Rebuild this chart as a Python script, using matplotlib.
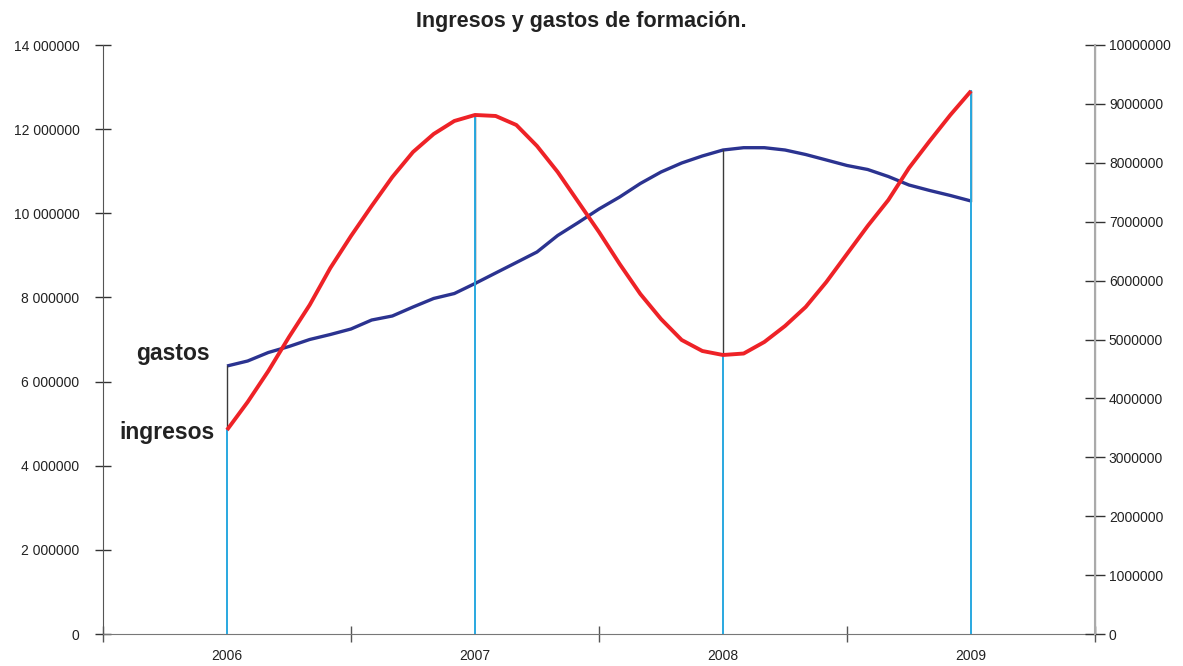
import numpy as np
import matplotlib
matplotlib.use("Agg")
import matplotlib.pyplot as plt

plt.rcParams['font.family'] = ['Liberation Sans', 'DejaVu Sans']

years = ['2006', '2007', '2008', '2009']

# monthly values, Jan 2006 .. Jan 2009
gastos = [6.370, 6.489, 6.691, 6.834, 7.000, 7.119, 7.250, 7.463, 7.559, 7.772,
          7.975, 8.093, 8.331, 8.581, 8.830, 9.080, 9.472, 9.781, 10.102, 10.387,
          10.708, 10.981, 11.195, 11.362, 11.504, 11.559, 11.559, 11.504, 11.397,
          11.267, 11.136, 11.041, 10.874, 10.672, 10.542, 10.423, 10.292]
ingresos = [3.464, 3.939, 4.465, 5.042, 5.586, 6.214, 6.757, 7.267, 7.759, 8.183,
            8.489, 8.710, 8.812, 8.795, 8.642, 8.285, 7.844, 7.334, 6.825, 6.282,
            5.773, 5.348, 4.992, 4.805, 4.737, 4.762, 4.958, 5.229, 5.552, 5.976,
            6.452, 6.927, 7.368, 7.912, 8.370, 8.812, 9.219]

gastos = np.array(gastos) * 1e6      # left axis
ingresos = np.array(ingresos) * 1e6  # right axis
months = np.arange(len(gastos)) / 12.0

left_max = 14e6
right_max = 10e6

fig = plt.figure(figsize=(11.83, 6.66), dpi=100)
ax = fig.add_axes([103/1183, 1-634/666, (1095-103)/1183, (634-45)/666])
ax2 = ax.twinx()

ax.set_xlim(-0.5, 3.5)
ax.set_ylim(0, left_max)
ax2.set_ylim(0, right_max)

ax.plot(months, gastos, color='#2b3390', lw=2.4, solid_capstyle='butt', zorder=3)

# lines at each year: dark line between the two series, cyan drop line to ingresos
ratio = right_max / left_max
for i in range(len(years)):
    k = i * 12
    g = gastos[k] * ratio
    r = ingresos[k]
    ax2.plot([i, i], [min(g, r), max(g, r)], color='#3a3a3a', lw=1, zorder=1)
    ax2.plot([i, i], [0, r], color='#29a8e0', lw=1.4, zorder=2)

ax2.plot(months, ingresos, color='#ee2227', lw=2.8, solid_capstyle='butt', zorder=4)

# x axis: ticks at boundaries, labels at centers
ax.set_xticks(np.arange(-0.5, 4.0, 1.0))
ax.set_xticklabels([])
ax.set_xticks(range(len(years)), minor=True)
ax.set_xticklabels(years, minor=True)
ax.tick_params(axis='x', which='major', direction='inout', length=12, width=1, color='#555555')
ax.tick_params(axis='x', which='minor', length=0, pad=11, labelsize=10, labelcolor='#222222')

yt = np.arange(0, 14.1e6, 2e6)
ax.set_yticks(yt)
ax.set_yticklabels(['0'] + ['%d 000000' % (v / 1e6) for v in yt[1:]])
ax.tick_params(axis='y', direction='inout', length=12, width=1, color='#333333',
               pad=11, labelsize=10, labelcolor='#222222')

yt2 = np.arange(0, 10.1e6, 1e6)
ax2.set_yticks(yt2)
ax2.set_yticklabels(['%d' % v for v in yt2])
ax2.tick_params(axis='y', direction='inout', length=14, width=1, color='#333333',
                pad=3, labelsize=10, labelcolor='#222222')

for a in (ax, ax2):
    a.spines['top'].set_visible(False)
ax.spines['left'].set_color('#555555')
ax.spines['bottom'].set_color('#777777')
ax2.spines['left'].set_visible(False)
ax2.spines['bottom'].set_visible(False)
ax2.spines['right'].set_color('#aaaaaa')
ax2.spines['right'].set_linewidth(1.5)

fig.text(581/1183, 1-22/666, 'Ingresos y gastos de formación.', ha='center', va='center',
         fontsize=15.5, fontweight='bold', color='#222222')

ax.text(-0.07, gastos[0] + 0.3e6, 'gastos', ha='right', va='center',
        fontsize=16.5, fontweight='bold', color='#222222')
ax2.text(-0.05, ingresos[0] - 0.05e6, 'ingresos', ha='right', va='center',
         fontsize=16.5, fontweight='bold', color='#222222')

fig.savefig('out.png', dpi=100)
